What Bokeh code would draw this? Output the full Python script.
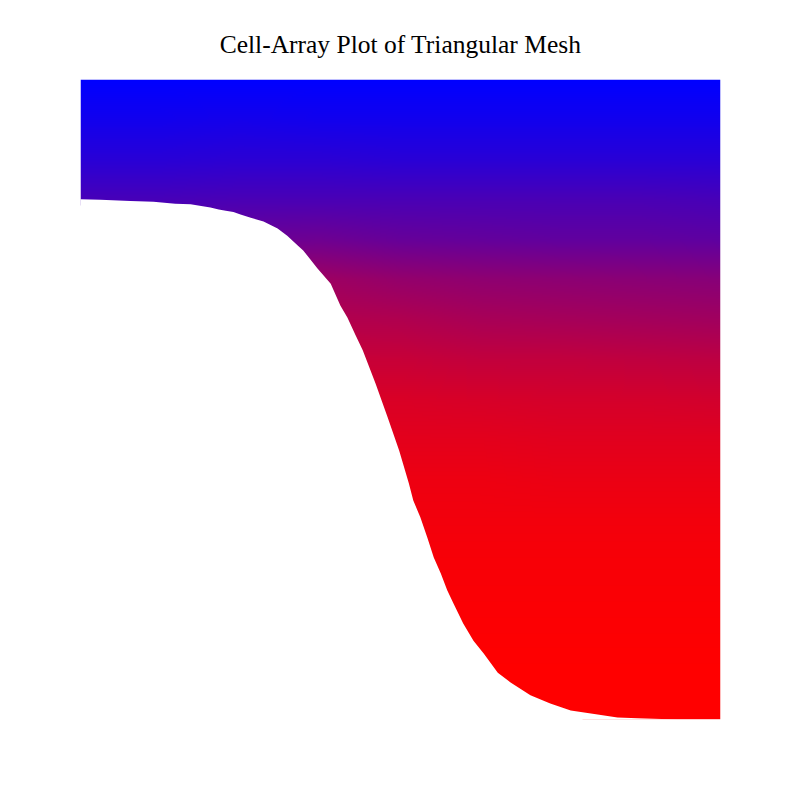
import numpy as np
from bokeh.plotting import figure
from bokeh.models import LinearColorMapper
from bokeh.embed import file_html
from bokeh.resources import INLINE

TITLE = "Cell-Array Plot of Triangular Mesh"

# mesh outline (lower-left edge of the domain) (0..1 units)
edge_x = [0.000, 0.031, 0.078, 0.114, 0.148, 0.172, 0.191, 0.203, 0.216, 0.227,
          0.239, 0.250, 0.266, 0.286, 0.308, 0.323, 0.339, 0.348, 0.370, 0.391,
          0.406, 0.417, 0.430, 0.441, 0.461, 0.480, 0.498, 0.513, 0.520, 0.531,
          0.542, 0.552, 0.563, 0.573, 0.583, 0.598, 0.614, 0.630, 0.652, 0.672,
          0.703, 0.734, 0.766, 0.808, 0.839, 0.870, 0.933, 1.000]
edge_y = [0.813, 0.812, 0.810, 0.809, 0.806, 0.805, 0.802, 0.800, 0.797, 0.795,
          0.793, 0.789, 0.784, 0.778, 0.767, 0.756, 0.741, 0.733, 0.705, 0.681,
          0.647, 0.628, 0.600, 0.577, 0.525, 0.472, 0.420, 0.369, 0.342, 0.316,
          0.284, 0.253, 0.228, 0.202, 0.181, 0.150, 0.123, 0.103, 0.073, 0.058,
          0.038, 0.025, 0.014, 0.008, 0.003, 0.002, 0.000, 0.000]

# cell values sampled on a regular grid: columns at x = 0, 1/8, ..., 1
col_x = [0.0, 0.125, 0.25, 0.375, 0.5, 0.625, 0.75, 0.875, 1.0]
# rows from top (y = 1) down to bottom (y = 0), step 1/16
row_top = [0.00, 0.00, 0.00, 0.00, 0.00, 0.00, 0.00, 0.00, 0.00]
row_01 = [0.07, 0.07, 0.08, 0.07, 0.07, 0.07, 0.07, 0.07, 0.07]
row_02 = [0.16, 0.16, 0.17, 0.17, 0.16, 0.16, 0.16, 0.16, 0.16]
row_03 = [0.28, 0.28, 0.29, 0.29, 0.29, 0.29, 0.29, 0.29, 0.28]
row_04 = [0.42, 0.42, 0.42, 0.43, 0.40, 0.39, 0.38, 0.38, 0.37]
row_05 = [0.62, 0.62, 0.62, 0.62, 0.58, 0.56, 0.55, 0.54, 0.53]
row_06 = [0.70, 0.70, 0.70, 0.70, 0.69, 0.66, 0.65, 0.64, 0.63]
row_07 = [0.78, 0.78, 0.78, 0.78, 0.78, 0.76, 0.76, 0.75, 0.74]
row_08 = [0.85, 0.85, 0.85, 0.85, 0.85, 0.84, 0.83, 0.83, 0.82]
row_09 = [0.89, 0.89, 0.89, 0.89, 0.89, 0.89, 0.88, 0.88, 0.88]
row_10 = [0.93, 0.93, 0.93, 0.93, 0.93, 0.93, 0.92, 0.92, 0.92]
row_11 = [0.95, 0.95, 0.95, 0.95, 0.95, 0.95, 0.95, 0.95, 0.95]
row_12 = [0.97, 0.97, 0.97, 0.97, 0.97, 0.97, 0.97, 0.97, 0.97]
row_13 = [0.98, 0.98, 0.98, 0.98, 0.98, 0.98, 0.98, 0.98, 0.98]
row_14 = [0.99, 0.99, 0.99, 0.99, 0.99, 0.99, 0.99, 0.99, 0.99]
row_15 = [1.00, 1.00, 1.00, 1.00, 1.00, 1.00, 1.00, 1.00, 1.00]
row_bot = [1.00, 1.00, 1.00, 1.00, 1.00, 1.00, 1.00, 1.00, 1.00]

rows_top_down = [row_top, row_01, row_02, row_03, row_04, row_05, row_06, row_07,
                 row_08, row_09, row_10, row_11, row_12, row_13, row_14, row_15, row_bot]
row_y = list(np.linspace(1.0, 0.0, len(rows_top_down)))

# blue -> red colour scale
palette = ["#%02x00%02x" % (k, 255 - k) for k in range(256)]
mapper = LinearColorMapper(palette=palette, low=0.0, high=1.0, nan_color="rgba(0, 0, 0, 0)")

# smooth (bilinear) rendering of the sampled grid for display
grid = np.array(rows_top_down[::-1], dtype=float)   # bottom row first
gy = np.array(row_y[::-1])
N = 320
centers = (np.arange(N) + 0.5) / N
tmp = np.array([np.interp(centers, col_x, r) for r in grid])          # rows x N
img = np.array([np.interp(centers, gy, tmp[:, j]) for j in range(N)]).T  # N x N
# cells well outside the mesh are left empty
edge_at = np.interp(centers, edge_x, edge_y)
outside = centers[:, None] < (edge_at[None, :] - 0.01)
img[outside] = np.nan

p = figure(width=792, height=792, output_backend="svg", toolbar_location=None,
           x_range=(0, 1), y_range=(0, 1), x_axis_type=None, y_axis_type=None,
           min_border_left=80, min_border_right=72, min_border_top=79, min_border_bottom=73,
           title=TITLE)
p.grid.visible = False
p.outline_line_color = None
p.background_fill_color = "white"
p.border_fill_color = "white"

p.title.align = "center"
p.title.text_font = "Liberation Serif"
p.title.text_font_size = "25.5px"
p.title.text_font_style = "normal"
p.title.text_color = "black"
p.title.standoff = 41

p.image(image=[img], x=0, y=0, dw=1, dh=1, color_mapper=mapper)

# blank out the part outside the mesh
mask_x = [-0.02] + edge_x + [1.02, 1.02, -0.02]
mask_y = [edge_y[0]] + edge_y + [0.0, -0.02, -0.02]
p.patch(mask_x, mask_y, fill_color="white", line_color=None)

open("out.html", "w").write(file_html(p, INLINE))
